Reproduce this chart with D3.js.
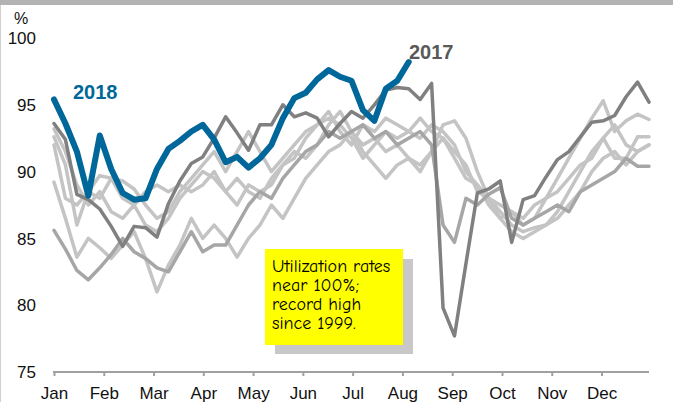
<!DOCTYPE html>
<html>
<head>
<meta charset="utf-8">
<script src="https://cdn.jsdelivr.net/npm/d3@7"></script>
<style>
  body { margin: 0; background: #fff; }
  svg { display: block; font-family: "Liberation Sans", Arial, sans-serif; }
</style>
</head>
<body>
<div id="chart"></div>
<script>
// weekly utilization, %
var months = ["Jan","Feb","Mar","Apr","May","Jun","Jul","Aug","Sep","Oct","Nov","Dec"];
var yTicks = [75, 80, 85, 90, 95, 100];

var y2018 = [95.4, 93.6, 91.5, 88.2, 92.7, 90.2, 88.4, 87.9, 88.0, 90.2, 91.7, 92.3, 93.0, 93.5, 92.4, 90.7,
             91.1, 90.3, 91.0, 92.0, 94.0, 95.5, 95.9, 96.9, 97.6, 97.1, 96.8, 94.6, 93.8, 96.2, 96.8, 98.2];

var y2017 = [93.6, 92.4, 88.3, 87.9, 87.2, 85.9, 84.4, 85.9, 85.8, 85.1, 87.6, 89.3, 90.6, 91.1, 92.5, 94.1,
             92.9, 91.6, 93.5, 93.5, 95.0, 94.1, 94.4, 94.0, 92.6, 93.6, 94.5, 94.0, 95.0, 96.1, 96.3, 96.2,
             95.4, 96.6, 79.8, 77.7, 83.1, 88.4, 88.7, 89.3, 84.7, 87.9, 88.2, 89.6, 90.9, 91.5, 92.6, 93.7,
             93.8, 94.2, 95.6, 96.7, 95.2];

var yMid = [85.6, 84.2, 82.6, 81.9, 82.8, 83.8, 85.0, 84.0, 83.5, 82.8, 82.5, 84.0, 85.5, 84.0, 84.5, 84.5,
            86.0, 87.5, 88.5, 88.0, 89.5, 90.5, 91.5, 92.0, 93.0, 92.5, 93.0, 93.5, 92.5, 93.0, 92.0, 92.5,
            93.0, 92.0, 86.0, 84.7, 88.0, 87.5, 88.3, 88.8, 86.5, 86.0, 86.5, 87.0, 87.5, 87.0, 88.5, 89.0,
            89.5, 90.0, 91.0, 90.4, 90.4];

var yLight1 = [92.6, 90.5, 86.0, 88.5, 88.0, 89.5, 89.3, 88.7, 87.5, 86.5, 87.0, 88.5, 89.5, 90.5, 91.5, 90.0,
               91.5, 93.0, 91.5, 90.0, 91.0, 92.0, 93.0, 93.5, 94.5, 93.0, 92.0, 93.5, 93.0, 94.0, 93.5, 93.0,
               92.5, 93.5, 93.0, 92.0, 90.0, 89.0, 87.5, 86.5, 87.0, 86.0, 86.5, 88.0, 89.5, 91.0, 92.5, 94.0,
               95.3, 93.0, 93.8, 94.3, 93.9];

var yLight2 = [93.2, 91.5, 89.0, 87.5, 88.5, 87.0, 86.5, 87.5, 86.0, 85.5, 86.5, 88.0, 89.0, 90.0, 89.5, 88.5,
               89.5, 88.5, 88.0, 89.5, 90.5, 91.0, 92.5, 93.5, 94.0, 93.5, 92.5, 91.0, 92.0, 93.0, 92.5, 93.0,
               94.0, 93.0, 92.5, 91.5, 90.5, 88.5, 88.0, 87.0, 86.0, 85.5, 85.8, 86.0, 87.0, 88.5, 90.0, 91.5,
               92.5, 91.0, 91.0, 92.6, 92.6];

var yLight3 = [89.2, 86.5, 83.6, 85.0, 84.3, 83.5, 84.5, 85.5, 83.5, 81.0, 83.0, 84.5, 86.5, 85.0, 86.0, 85.0,
               83.6, 85.0, 86.0, 87.5, 86.5, 88.0, 89.5, 90.5, 91.5, 92.0, 93.0, 91.5, 90.5, 89.5, 90.5, 91.0,
               90.5, 91.5, 92.5, 91.0, 89.5, 89.0, 88.0, 86.5, 85.5, 85.0, 85.5, 86.0, 86.5, 87.5, 88.5, 90.0,
               91.0, 91.5, 90.5, 91.5, 92.0];

var yLight4 = [92.0, 88.0, 87.5, 88.5, 89.7, 89.5, 88.0, 87.5, 88.5, 89.0, 88.5, 89.0, 88.5, 89.0, 90.0, 88.5,
               87.5, 89.0, 88.5, 89.0, 90.5, 91.5, 91.0, 92.0, 93.5, 94.5, 93.0, 92.0, 92.5, 91.5, 92.0, 91.0,
               90.0, 91.5, 93.5, 93.8, 92.5, 90.0, 88.0, 87.5, 87.0, 86.5, 87.5, 88.0, 88.5, 89.5, 90.5, 91.0,
               92.5, 93.5, 92.0, 91.5, 92.0];

var note = ["Utilization rates", "near 100%;", "record high", "since 1999."];

var W = 673, H = 402;
var svg = d3.select("#chart").append("svg")
  .attr("width", W)
  .attr("height", H);

// grey band at top and thin frame on the left
svg.append("rect").attr("x", 0).attr("y", 0).attr("width", W).attr("height", 5).attr("fill", "#b3b3b3");
svg.append("line").attr("x1", 0.5).attr("x2", 0.5).attr("y1", 5).attr("y2", H).attr("stroke", "#d0d0d0");

var x = d3.scaleLinear().domain([0, 52]).range([54, 649]);
var y = d3.scaleLinear().domain([75, 100]).range([372, 38]);

// y labels, no axis line
svg.append("g").selectAll("text")
  .data(yTicks)
  .enter().append("text")
    .attr("x", 36)
    .attr("y", function (d) { return y(d); })
    .attr("dy", "0.36em")
    .attr("text-anchor", "end")
    .attr("font-size", 17)
    .attr("fill", "#111")
    .text(function (d) { return d; });

svg.append("text")
  .attr("x", 21).attr("y", 24)
  .attr("text-anchor", "middle")
  .attr("font-size", 16)
  .attr("fill", "#111")
  .text("%");

// x axis, months every ~4.35 weeks
var xAxis = d3.axisBottom(x)
  .tickValues(months.map(function (m, i) { return i * 4.35; }))
  .tickFormat(function (d, i) { return months[i]; })
  .tickSize(4)
  .tickSizeOuter(0)
  .tickPadding(11);

var gx = svg.append("g")
  .attr("transform", "translate(0,372)")
  .call(xAxis);
gx.select(".domain").attr("stroke", "#a0a0a0").attr("stroke-width", 2).attr("d", "M53,0H649");
gx.selectAll(".tick line").attr("stroke", "#a0a0a0").attr("stroke-width", 2);
gx.selectAll(".tick text")
  .attr("font-size", 17)
  .attr("font-family", "'Liberation Sans', Arial, sans-serif")
  .attr("fill", "#111");

// note box with shadow
var nb = svg.append("g");
nb.append("rect").attr("x", 275).attr("y", 259).attr("width", 138).attr("height", 95).attr("fill", "#c8c8c8");
nb.append("rect").attr("x", 265).attr("y", 249).attr("width", 138).attr("height", 96).attr("fill", "#ffff00");
nb.selectAll("text")
  .data(note)
  .enter().append("text")
    .attr("x", 272)
    .attr("y", function (d, i) { return 272 + i * 19; })
    .attr("font-family", "'Comic Sans MS', 'Comic Neue', 'DejaVu Sans', sans-serif")
    .attr("font-size", 18)
    .attr("fill", "#000")
    .text(function (d) { return d; });

var line = d3.line()
  .x(function (d, i) { return x(i); })
  .y(function (d) { return y(d); });

var series = [
  { name: "light1", values: yLight1, color: "#c4c4c4", width: 3.5 },
  { name: "light2", values: yLight2, color: "#c4c4c4", width: 3.5 },
  { name: "light3", values: yLight3, color: "#c4c4c4", width: 3.5 },
  { name: "light4", values: yLight4, color: "#c4c4c4", width: 3.5 },
  { name: "mid", values: yMid, color: "#a6a6a6", width: 3.5 },
  { name: "2017", values: y2017, color: "#808080", width: 3.5 },
  { name: "2018", values: y2018, color: "#00679a", width: 6 }
];

svg.append("g").selectAll("path")
  .data(series)
  .enter().append("path")
    .attr("d", function (d) { return line(d.values); })
    .attr("fill", "none")
    .attr("stroke", function (d) { return d.color; })
    .attr("stroke-width", function (d) { return d.width; })
    .attr("stroke-linejoin", "round")
    .attr("stroke-linecap", "round");

// series labels
svg.append("text")
  .attr("x", 73).attr("y", 99)
  .attr("font-size", 20).attr("font-weight", "bold")
  .attr("fill", "#00679a")
  .text("2018");

svg.append("text")
  .attr("x", 409).attr("y", 59)
  .attr("font-size", 20).attr("font-weight", "bold")
  .attr("fill", "#595959")
  .text("2017");
</script>
</body>
</html>
